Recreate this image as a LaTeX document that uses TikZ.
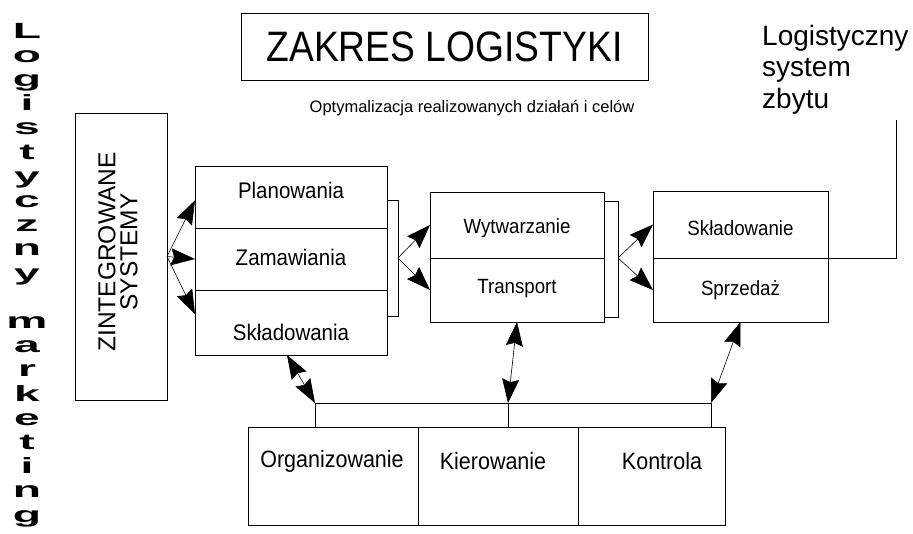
\documentclass[tikz,border=0pt]{standalone}
\usepackage{fontspec}
\setmainfont{Liberation Sans}
\usetikzlibrary{arrows.meta,positioning}

\begin{document}
\begin{tikzpicture}
	 [x=1pt,y=-1pt,>={Stealth[length=24pt,width=17pt,inset=3pt]}]
	 \tikzset{node distance=0pt}
	\tikzset{komorka/.style={rectangle,draw=black,line width=0.8pt,inner sep=0pt,outer sep=0pt}}
	\tikzset{napis/.style={inner sep=0pt}}
	\tikzset{linia/.style={line width=0.8pt}}
	\tikzset{strz/.style={line width=0.6pt,->}}
	\tikzset{dwustrz/.style={line width=0.6pt,<->}}
	\tikzset{litera/.style={inner sep=0pt,anchor=base,font=\fontsize{22}{22}\selectfont\bfseries}}
	\tikzset{fa/.style={font=\fontsize{20.5}{22}\selectfont}}
	\tikzset{fb/.style={font=\fontsize{18.7}{20}\selectfont}}
	\tikzset{fc/.style={font=\fontsize{21.5}{22}\selectfont}}
	\useasboundingbox (0,0) rectangle (913,533);
	\foreach \lit/\k in {L/0,o/1,g/2,i/3,s/4,t/5,y/6,c/7,z/8,n/9,y/10,m/12,a/13,r/14,k/15,e/16,t/17,i/18,n/19,g/20}
		\node [litera] (lit\k) at (27,38+24.2*\k) {\scalebox{2.1}[1]{\lit}};
	\node [komorka,minimum width=407pt,minimum height=67pt,font=\fontsize{38}{38}\selectfont] (tytul) at (444.5,46.5) {\scalebox{0.98}[1.12]{ZAKRES LOGISTYKI}};
	\node [napis,font=\fontsize{16.5}{18}\selectfont] (optym) at (472,108) {Optymalizacja realizowanych działań i celów};
	\node [napis,anchor=north west,align=left,font=\fontsize{28}{31.5}\selectfont] (zbyt) at (762,25) {Logistyczny\\system\\zbytu};
	\node [komorka,minimum width=92pt,minimum height=287pt] (zint) at (121,256.5) {};
	\node [napis,rotate=90,align=center,font=\fontsize{24.5}{22}\selectfont] (tzint) at (118,252) {ZINTEGROWANE\\SYSTEMY};
	\node [komorka,minimum width=192pt,minimum height=62pt] (plan) at (291,197) {};
	\node [komorka,minimum width=192pt,minimum height=62pt,below=of plan] (zam) {};
	\node [komorka,minimum width=192pt,minimum height=65pt,below=of zam] (skl) {};
	\node [napis,fa] (tplan) at (291,190) {\scalebox{1}[1.1]{Planowania}};
	\node [napis,fa] (tzam) at (291,257) {\scalebox{1}[1.1]{Zamawiania}};
	\node [napis,fa] (tskl) at (291,332) {\scalebox{1}[1.1]{Składowania}};
	\node [komorka,minimum width=174pt,minimum height=66pt] (wytw) at (517,225) {};
	\node [komorka,minimum width=174pt,minimum height=64pt,below=of wytw] (transp) {};
	\node [komorka,minimum width=175pt,minimum height=67pt] (skla) at (740.5,224.5) {};
	\node [komorka,minimum width=175pt,minimum height=64pt,below=of skla] (sprz) {};
	\node [napis,fb] (twytw) at (517,228) {\scalebox{1}[1.1]{Wytwarzanie}};
	\node [napis,fb] (ttransp) at (517,289) {\scalebox{1}[1.1]{Transport}};
	\node [napis,fb] (tskla) at (740.5,228) {\scalebox{1}[1.1]{Składowanie}};
	\node [napis,fb] (tsprz) at (740.5,290) {\scalebox{1}[1.1]{Sprzedaż}};
	\node [komorka,minimum width=170pt,minimum height=98pt] (org) at (333,476) {};
	\node [komorka,minimum width=160pt,minimum height=98pt,right=of org] (kier) {};
	\node [komorka,minimum width=147pt,minimum height=98pt,right=of kier] (kont) {};
	\node [napis,fc] (torg) at (332,461) {\scalebox{1}[1.1]{Organizowanie}};
	\node [napis,fc] (tkier) at (493,461) {\scalebox{1}[1.1]{Kierowanie}};
	\node [napis,fc] (tkont) at (662,461) {\scalebox{1}[1.1]{Kontrola}};
	\draw[strz] (zint.east) -- (plan.182);
	\draw[strz] (zint.east) -- (zam.west);
	\draw[strz] (zint.east) -- (skl.175);
	\coordinate (kl1) at (398,258);
	\coordinate (kl2) at (618,258);
	\draw[linia] ([yshift=-3pt]plan.east) -- ++(11,0) -- ++(0,116) -- ++(-11,0);
	\draw[linia] ([yshift=-9pt]wytw.north east) -- ++(14,0) -- ++(0,116) -- ++(-14,0);
	\draw[strz] (kl1) -- (wytw.west);
	\draw[strz] (kl1) -- (transp.west);
	\draw[strz] (kl2) -- (skla.west);
	\draw[strz] (kl2) -- (sprz.west);
	\coordinate (s1) at (315,403);
	\coordinate (s2) at (508,403);
	\coordinate (s3) at (711,403);
	\draw[linia] (s1) -- (s3);
	\draw[linia] (s1) -- (s1 |- org.north);
	\draw[linia] (s2) -- (s2 |- kier.north);
	\draw[linia] (s3) -- (s3 |- kont.north);
	\draw[dwustrz] ([xshift=-4pt]skl.south) -- (s1);
	\draw[dwustrz] (transp.south) -- (s2);
	\draw[dwustrz] (sprz.south) -- (s3);
	\coordinate (zb) at (896,120);
	\draw[linia] (sprz.north east) -| (zb);
\end{tikzpicture}
\end{document}
